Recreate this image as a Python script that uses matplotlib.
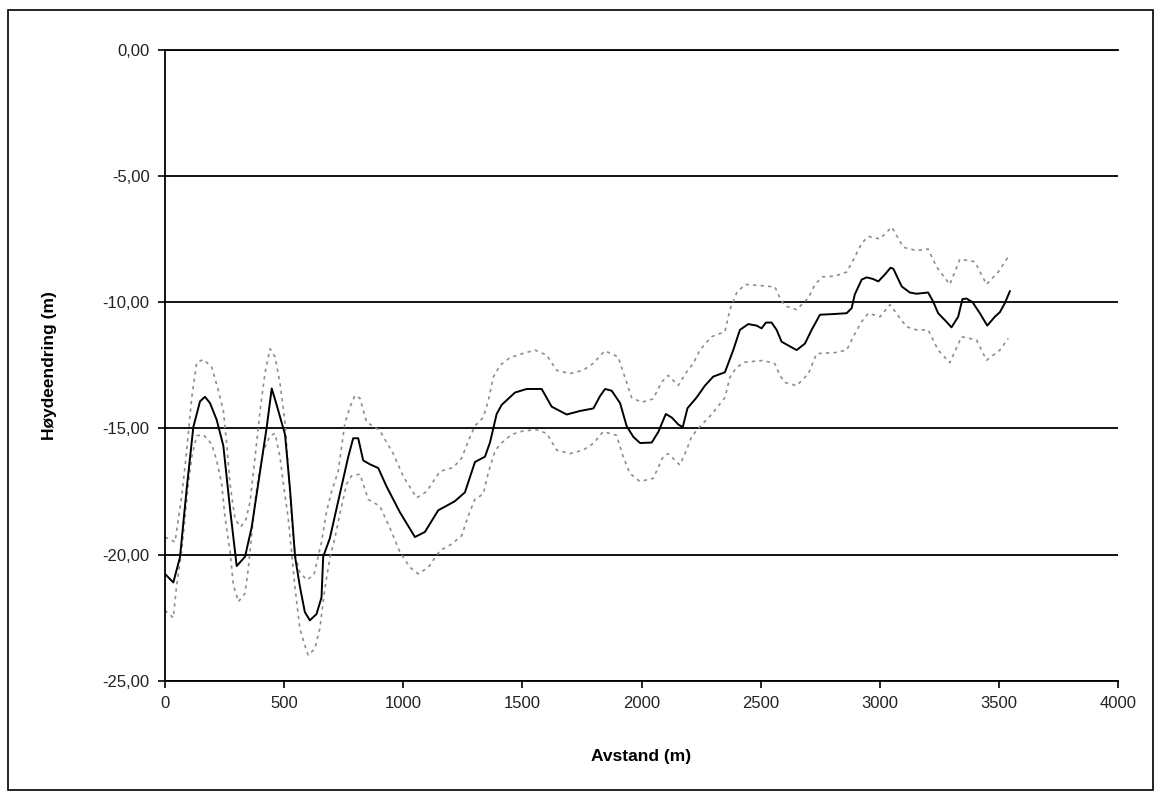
"""
Height change along the profile, with upper and lower uncertainty band.
Writes out.png.
"""
import matplotlib
matplotlib.use("Agg")
import matplotlib.pyplot as plt
from matplotlib.patches import Rectangle
from matplotlib.ticker import FuncFormatter

plt.rcParams["font.family"] = ["Liberation Sans", "DejaVu Sans"]

# Measured profile: distance (m) and height change (m)
AVSTAND = [4, 35, 63, 91, 119, 147, 168, 189, 217, 245, 273, 301, 336, 364, 399,
           427, 448, 469, 504, 525, 546, 566, 587, 608, 636, 657, 664, 692, 734,
           769, 790, 811, 832, 860, 895, 930, 986, 1049, 1091, 1147, 1175, 1217,
           1259, 1301, 1343, 1364, 1392, 1413, 1469, 1518, 1581, 1623, 1686, 1742,
           1798, 1826, 1847, 1875, 1910, 1938, 1966, 1994, 2043, 2071, 2102, 2127,
           2155, 2173, 2193, 2231, 2266, 2301, 2350, 2385, 2413, 2448, 2483, 2504,
           2522, 2546, 2567, 2588, 2651, 2686, 2714, 2749, 2812, 2861, 2882, 2895,
           2924, 2945, 2970, 2994, 3021, 3045, 3057, 3092, 3126, 3154, 3203, 3224,
           3245, 3280, 3301, 3329, 3347, 3364, 3389, 3420, 3451, 3483, 3504, 3525,
           3546]
HOYDE = [-20.8, -21.1, -20.1, -17.4, -14.95, -13.93, -13.75, -14.0, -14.66, -15.69,
         -18.18, -20.45, -20.08, -18.91, -16.71, -14.95, -13.42, -14.08, -15.25,
         -17.44, -20.08, -21.25, -22.27, -22.6, -22.35, -21.69, -20.08, -19.35,
         -17.59, -16.13, -15.39, -15.39, -16.27, -16.42, -16.57, -17.3, -18.32,
         -19.3, -19.1, -18.24, -18.1, -17.88, -17.53, -16.33, -16.12, -15.56,
         -14.43, -14.07, -13.58, -13.44, -13.44, -14.14, -14.45, -14.31, -14.21,
         -13.72, -13.44, -13.51, -14.0, -14.92, -15.34, -15.58, -15.56, -15.13,
         -14.43, -14.57, -14.85, -14.95, -14.2, -13.78, -13.31, -12.95, -12.78,
         -11.9, -11.1, -10.87, -10.93, -11.04, -10.81, -10.81, -11.1, -11.57,
         -11.9, -11.64, -11.1, -10.5, -10.47, -10.44, -10.24, -9.7, -9.11, -9.02,
         -9.08, -9.18, -8.91, -8.64, -8.68, -9.38, -9.62, -9.67, -9.62, -9.98,
         -10.44, -10.78, -11.0, -10.58, -9.88, -9.86, -10.0, -10.44, -10.93,
         -10.58, -10.4, -10.04, -9.57]

# Upper bound
OVRE_X = [0, 42, 70, 91, 112, 133, 161, 196, 224, 245, 259, 273, 294, 318, 340,
          357, 378, 399, 420, 441, 462, 483, 504, 517, 531, 546, 566, 595, 625,
          657, 678, 699, 727, 755, 776, 797, 818, 846, 902, 930, 958, 1000, 1056,
          1098, 1154, 1210, 1245, 1273, 1301, 1336, 1357, 1378, 1406, 1448, 1504,
          1553, 1602, 1644, 1700, 1755, 1797, 1846, 1902, 1930, 1958, 2000, 2049,
          2084, 2112, 2154, 2189, 2217, 2245, 2294, 2350, 2371, 2399, 2434, 2504,
          2560, 2581, 2602, 2651, 2700, 2728, 2760, 2812, 2861, 2889, 2924, 2952,
          3001, 3050, 3099, 3154, 3203, 3238, 3294, 3336, 3399, 3448, 3497, 3539]
OVRE_Y = [-19.3, -19.5, -17.7, -15.9, -13.8, -12.4, -12.27, -12.57, -13.5, -14.3,
          -15.6, -17.2, -18.6, -18.9, -18.6, -17.9, -16.15, -14.3, -12.8, -11.85,
          -12.17, -13.23, -14.8, -16.5, -18.5, -20.0, -20.7, -21.0, -20.8, -19.5,
          -18.3, -17.5, -16.7, -14.8, -14.16, -13.7, -13.8, -14.75, -15.09, -15.55,
          -16.0, -16.9, -17.75, -17.5, -16.7, -16.55, -16.18, -15.5, -14.9, -14.57,
          -13.9, -12.97, -12.5, -12.2, -12.03, -11.9, -12.1, -12.7, -12.83, -12.7,
          -12.43, -11.93, -12.17, -12.97, -13.77, -13.97, -13.83, -13.17, -12.9,
          -13.3, -12.77, -12.43, -11.9, -11.37, -11.17, -10.3, -9.64, -9.3, -9.35,
          -9.4, -9.84, -10.15, -10.3, -9.84, -9.3, -9.0, -8.97, -8.81, -8.33, -7.67,
          -7.4, -7.5, -7.03, -7.83, -7.96, -7.9, -8.6, -9.3, -8.3, -8.4, -9.3,
          -8.81, -8.21]

# Lower bound
NEDRE_X = [0, 35, 49, 70, 84, 98, 112, 133, 161, 196, 217, 238, 252, 273, 287,
           308, 336, 350, 364, 378, 392, 413, 441, 462, 483, 497, 517, 531, 546,
           566, 587, 601, 629, 650, 671, 692, 713, 734, 762, 783, 818, 853, 902,
           944, 986, 1028, 1063, 1105, 1154, 1203, 1245, 1273, 1301, 1336, 1357,
           1385, 1406, 1455, 1504, 1560, 1602, 1644, 1700, 1755, 1797, 1839, 1895,
           1923, 1951, 1993, 2049, 2091, 2112, 2161, 2189, 2210, 2245, 2294, 2350,
           2371, 2399, 2434, 2511, 2560, 2581, 2602, 2651, 2700, 2735, 2812, 2861,
           2889, 2924, 2952, 3001, 3043, 3085, 3113, 3154, 3203, 3245, 3294, 3343,
           3406, 3448, 3504, 3539]
NEDRE_Y = [-22.2, -22.5, -21.2, -19.87, -18.54, -17.2, -16.15, -15.29, -15.25,
           -15.62, -16.28, -17.2, -18.54, -19.87, -21.2, -21.86, -21.53, -20.53,
           -19.2, -17.88, -16.95, -15.88, -15.29, -15.2, -16.15, -17.2, -18.54,
           -19.87, -21.33, -22.92, -23.59, -23.98, -23.72, -22.92, -21.33, -20.13,
           -19.34, -18.4, -17.2, -16.88, -16.81, -17.81, -18.08, -18.94, -19.9,
           -20.5, -20.76, -20.5, -19.84, -19.58, -19.25, -18.46, -17.8, -17.6,
           -16.75, -15.9, -15.63, -15.24, -15.1, -15.05, -15.2, -15.86, -16.0,
           -15.86, -15.6, -15.13, -15.27, -16.12, -16.78, -17.1, -16.98, -16.12,
           -16.0, -16.45, -15.86, -15.33, -14.93, -14.45, -13.78, -12.98, -12.58,
           -12.38, -12.31, -12.44, -12.91, -13.18, -13.31, -12.84, -12.04, -12.0,
           -11.9, -11.37, -10.77, -10.44, -10.58, -10.1, -10.64, -10.98, -11.1,
           -11.1, -11.9, -12.4, -11.37, -11.5, -12.3, -11.9, -11.44]

X_TICKS = list(range(0, 4001, 500))
Y_TICKS = [0, -5, -10, -15, -20, -25]


def komma(v, pos):
    return f"{v:.2f}".replace(".", ",")


def main():
    fig = plt.figure(figsize=(11.61, 7.96), dpi=100)
    ax = fig.add_axes([0.1421, 0.1445, 0.8209, 0.7933])

    # dotted band first so the profile sits on top
    ax.plot(OVRE_X, OVRE_Y, color="#8e8e8e", lw=1.2, ls=(0, (2.0, 2.5)))
    ax.plot(NEDRE_X, NEDRE_Y, color="#8e8e8e", lw=1.2, ls=(0, (2.0, 2.5)))
    ax.plot(AVSTAND, HOYDE, color="black", lw=1.4)

    ax.set_xlim(0, 4000)
    ax.set_ylim(-25, 0)
    ax.set_xticks(X_TICKS)
    ax.set_yticks(Y_TICKS)
    ax.yaxis.set_major_formatter(FuncFormatter(komma))
    ax.grid(axis="y", color="black", lw=1.3)
    ax.set_axisbelow(True)
    # top gridline at 0 would otherwise be clipped to half width
    ax.axhline(0, color="black", lw=1.3, clip_on=False, zorder=0.5)

    for side in ("right", "top"):
        ax.spines[side].set_visible(False)
    for side in ("left", "bottom"):
        ax.spines[side].set_linewidth(1.3)
    ax.tick_params(direction="out", length=5, width=1.2, colors="black",
                   labelsize=12, labelcolor="#222222", pad=6)

    fig.text(0.0430, 0.541, "Høydeendring (m)", rotation=90, ha="center",
             va="center", fontsize=12.5, fontweight="bold")
    fig.text(0.552, 0.049, "Avstand (m)", ha="center", va="center",
             fontsize=12.5, fontweight="bold")

    # chart border
    fig.patches.append(Rectangle((8 / 1161, 6 / 796), 1145 / 1161, 780 / 796,
                                 transform=fig.transFigure, fill=False,
                                 edgecolor="black", lw=1.2))

    fig.savefig("out.png", dpi=100)
    plt.close(fig)


if __name__ == "__main__":
    main()
